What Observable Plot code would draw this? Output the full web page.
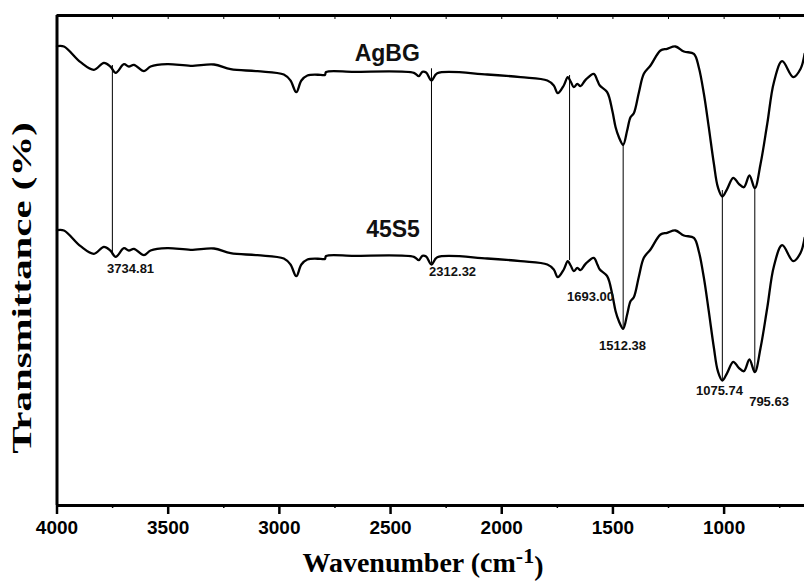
<!DOCTYPE html>
<html><head><meta charset="utf-8">
<script src="https://cdn.jsdelivr.net/npm/d3@7"></script>
<script src="https://cdn.jsdelivr.net/npm/@observablehq/plot@0.6"></script>
<style>body{margin:0;background:#fff} svg{display:block}</style>
</head><body><div id="chart"></div>
<script>
// Wavenumbers (cm-1) sampled along the spectra
const wavenumber = [4000,3969,3894,3834,3789,3760,3736,3699,3677,3654,3609,3579,3504,3399,3294,3219,3099,2980,2950,2924,2901,2874,2815,2795,2790,2665,2395,2373,2357,2340,2316,2290,2065,1915,1795,1766,1748,1721,1703,1690,1676,1660,1646,1623,1586,1570,1559,1526,1503,1488,1473,1454,1436,1421,1406,1383,1361,1331,1286,1256,1219,1181,1136,1114,1091,1069,1046,1028,1008,986,959,934,911,886,862,836,806,776,739,689,656,638];
// Transmittance (arbitrary units, offset spectra)
const agbg = [459.3,459,443.3,435.7,442.7,439,432.7,441.3,439,440.7,434.3,439,441.3,439.7,441,436.3,434.3,431,425,413.3,425,430,430.7,430.5,433.5,433.7,432.7,429.3,433.7,433,425,432.3,431,428.3,425,420,412.3,420,428.3,424,418.3,421.7,419.3,425.7,431.7,425,420,413.3,395,378.3,368.3,360.7,375,388.3,392.3,413.3,431.7,440,455,456.7,459,454,451.7,438.3,411.7,378.3,341.7,318.3,309,316.7,327.7,321.7,318.3,330,317.3,341.7,381.7,423.3,444.3,428.3,436.7,451.7];
const s45s5 = [275.3,275,259.3,251.7,258.7,255,248.7,257.3,255,256.7,250.3,255,257.3,255.7,257,252.3,250.3,247,241,229.3,241,246,246.7,246.5,249.5,249.7,248.7,245.3,249.7,249,241,248.3,247,244.3,241,236,228.3,236,244.3,240,234.3,237.7,235.3,241.7,247.7,241,236,229.3,211,194.3,184.3,176.7,191,204.3,208.3,229.3,247.7,256,271,272.7,275,270,267.7,254.3,227.7,194.3,157.7,134.3,125,132.7,143.7,137.7,134.3,146,133.3,157.7,197.7,239.3,260.3,244.3,252.7,267.7];

// Peak marker lines
const peakX = [3751, 2316, 1695, 1454, 1008, 862];
const peakTop = [440, 436.7, 430, 362, 315, 317];
const peakBottom = [250, 241.7, 245, 177, 125, 133.3];

// Peak labels
const peakLabels = ["3734.81", "2312.32", "1693.00", "1512.38", "1075.74", "795.63"];
const peakLabelX = [3669, 2221, 1601, 1457, 1021, 798];
const peakLabelY = [237, 233.3, 208.3, 159.3, 114.3, 103.3];

// Series labels
const seriesNames = ["AgBG", "45S5"];
const seriesLabelX = [2515, 2489];
const seriesLabelY = [451.7, 276];

// Ticks
const majorTicks = [4000, 3500, 3000, 2500, 2000, 1500, 1000];
const minorTicks = [3750, 3250, 2750, 2250, 1750, 1250, 750];
const topTicks = [3750, 3500, 3250, 3000, 2750, 2500, 2250, 2000, 1750, 1500, 1250, 1000, 750];

const rowsA = wavenumber.map((w, i) => ({w, t: agbg[i]}));
const rowsB = wavenumber.map((w, i) => ({w, t: s45s5[i]}));
const peaks = peakX.map((x, i) => ({x, y1: peakTop[i], y2: peakBottom[i]}));
const plabels = peakLabels.map((s, i) => ({s, x: peakLabelX[i], y: peakLabelY[i]}));
const slabels = seriesNames.map((s, i) => ({s, x: seriesLabelX[i], y: seriesLabelY[i]}));

const YMAX = 490;

const plot = Plot.plot({
  width: 804, height: 582,
  marginTop: 15, marginBottom: 77, marginLeft: 56.5, marginRight: 0,
  style: "background:white;font:bold 19px 'Liberation Sans', Arial, sans-serif;color:black",
  x: {domain: [4000, 638.5]},
  y: {domain: [0, YMAX], axis: null},
  marks: [
    Plot.axisX({ticks: majorTicks, tickSize: 9, tickPadding: 6, strokeWidth: 2.5, tickFormat: d => String(d), label: null}),
    Plot.axisX({ticks: minorTicks, tickSize: 3, strokeWidth: 1.5, tickFormat: () => "", label: null}),
    Plot.ruleX(topTicks, {x: d => d, y1: YMAX, y2: YMAX - 4, strokeWidth: 1}),
    Plot.ruleX(peaks, {x: "x", y1: "y1", y2: "y2", strokeWidth: 1, stroke: "black"}),
    Plot.line(rowsA, {x: "w", y: "t", stroke: "black", strokeWidth: 2.3, curve: "catmull-rom"}),
    Plot.line(rowsB, {x: "w", y: "t", stroke: "black", strokeWidth: 2.3, curve: "catmull-rom"}),
    Plot.ruleY([0], {strokeWidth: 3}),
    Plot.ruleY([YMAX], {strokeWidth: 3}),
    Plot.ruleX([4000], {strokeWidth: 3}),
    Plot.text(plabels, {x: "x", y: "y", text: "s", fontSize: 13, fontWeight: "bold", fill: "#111"}),
    Plot.text(slabels, {x: "x", y: "y", text: "s", fontSize: 23, fontWeight: "bold", fill: "#111"})
  ]
});

document.getElementById("chart").appendChild(plot);

const svg = d3.select(plot);
const serif = "'Liberation Serif', 'Times New Roman', serif";

// Y axis title (tall, stretched along its length as in the reference)
svg.append("text")
  .attr("transform", "translate(31,288) rotate(-90) scale(1.46,1)")
  .attr("text-anchor", "middle")
  .attr("font-family", serif)
  .attr("font-weight", "bold")
  .attr("font-size", 28)
  .attr("fill", "black")
  .text("Transmittance (%)");

// X axis title with superscript
const xt = svg.append("text")
  .attr("x", 423).attr("y", 572)
  .attr("text-anchor", "middle")
  .attr("font-family", serif)
  .attr("font-weight", "bold")
  .attr("font-size", 28)
  .attr("fill", "black");
xt.append("tspan").text("Wavenumber (cm");
xt.append("tspan").attr("dy", "-0.42em").attr("font-size", 22).text("-1");
xt.append("tspan").attr("dy", "0.42em").text(")");
</script>
</body></html>
